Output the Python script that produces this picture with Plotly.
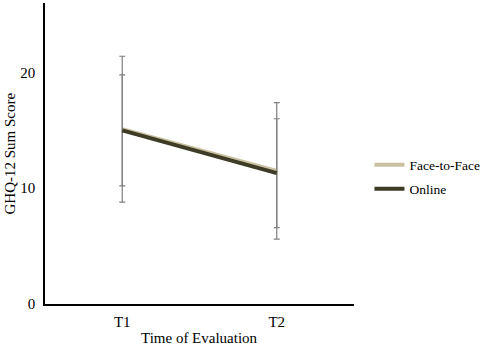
import plotly.graph_objects as go

categories = ["T1", "T2"]
face_mean = [15.1, 11.5]
face_sd = [6.3, 5.9]
online_mean = [15.0, 11.3]
online_sd = [4.8, 4.7]
y_ticks = [0, 10, 20]

FAM = "Liberation Serif"
font = dict(family=FAM, color="#000000", size=15)
lfont = dict(family=FAM, color="#000000", size=13.5)

fig = go.Figure()
fig.add_trace(go.Scatter(
    x=categories, y=face_mean, name="Face-to-Face", mode="lines",
    line=dict(color="#c9c09f", width=4), legend="legend",
    error_y=dict(type="data", array=face_sd, color="#7f7f7f", thickness=1.2, width=3),
))
fig.add_trace(go.Scatter(
    x=categories, y=online_mean, name="Online", mode="lines",
    line=dict(color="#3e3c27", width=4), legend="legend2",
    error_y=dict(type="data", array=online_sd, color="#7f7f7f", thickness=1.2, width=3),
))

fig.update_layout(
    width=484, height=349,
    margin=dict(l=45, r=130, t=3, b=45, autoexpand=False),
    paper_bgcolor="white", plot_bgcolor="white",
    font=font,
    showlegend=True,
    legend=dict(x=1.05, y=0.462, xanchor="left", yanchor="middle", font=lfont,
                itemwidth=30, bgcolor="rgba(0,0,0,0)"),
    legend2=dict(x=1.05, y=0.382, xanchor="left", yanchor="middle", font=lfont,
                 itemwidth=30, bgcolor="rgba(0,0,0,0)"),
    annotations=[
        dict(text="Time of Evaluation", x=0.5, xref="paper", y=-(338 - 304) / 301,
             yref="paper", yanchor="middle", showarrow=False, font=font),
        dict(text="GHQ-12 Sum Score", x=-(45 - 9) / 309, xanchor="center", y=0.5,
             xref="paper", yref="paper", showarrow=False, textangle=-90, font=font),
    ],
)

fig.update_xaxes(
    type="category", range=[-0.5, 1.5], showline=True, linecolor="#000000", linewidth=1.5,
    showgrid=False, ticks="", zeroline=False, automargin=False, tickfont=font,
    ticklabelstandoff=3,
)
fig.update_yaxes(
    range=[0, 26], tickvals=y_ticks, showline=True, linecolor="#000000", linewidth=1.5,
    showgrid=False, ticks="", zeroline=False, automargin=False, tickfont=font,
    ticklabelstandoff=5,
)
fig.write_html("out.html", config={"displayModeBar": False},
               post_script="document.body.style.margin='0';document.body.style.overflow='hidden';")
